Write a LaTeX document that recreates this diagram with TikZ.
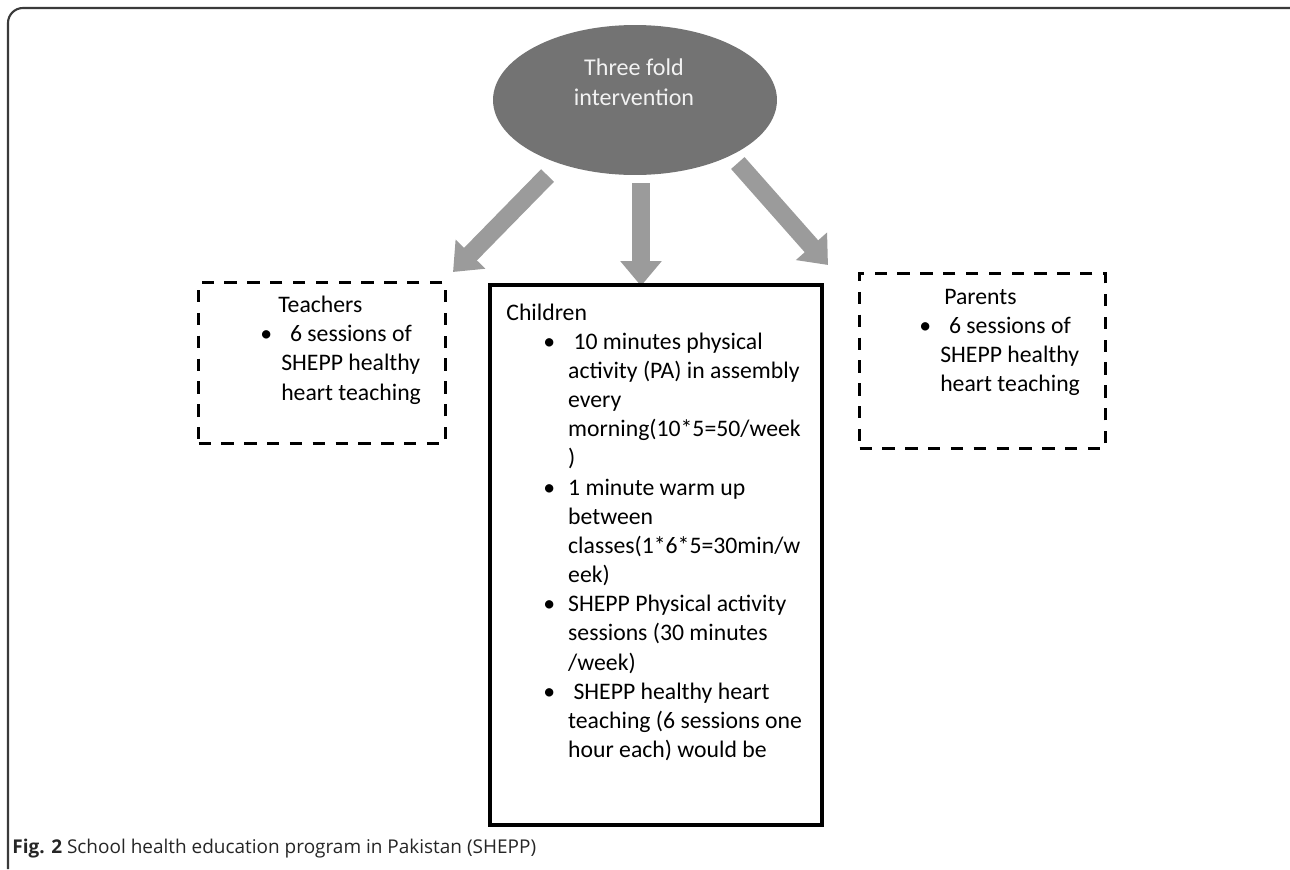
\documentclass[tikz,border=0pt]{standalone}
\usepackage{fontspec}
\setmainfont{Carlito}
\newfontfamily\capfont{Open Sans}
\usetikzlibrary{arrows.meta, shapes.geometric}
\definecolor{hubgray}{HTML}{737373}
\definecolor{arrowgray}{HTML}{9B9B9B}
\definecolor{hubtext}{HTML}{F2F2F2}
\definecolor{framegray}{HTML}{3A3A3A}
\newcommand{\cb}{\hspace*{21pt}\makebox[14.2pt][l]{\textbullet}}
\newcommand{\ci}{\hspace*{35.2pt}}
\newcommand{\tb}{\makebox[11.9pt][l]{\textbullet}}
\newcommand{\ti}{\hspace*{11.9pt}}

\begin{document}
\begin{tikzpicture}[x=0.02cm, y=-0.02cm,
  hub/.style={ellipse, fill=hubgray, inner sep=0, minimum width=5.68cm, minimum height=3cm},
  fatarrow/.style={draw=arrowgray, line width=0.36cm, -{Triangle[length=0.5cm, width=0.8cm]}},
  dashbox/.style={draw, line width=1.7pt, dash pattern=on 7pt off 6pt, inner sep=0},
  solidbox/.style={draw, line width=2.5pt, inner sep=0},
  boxtext/.style={anchor=base west, inner sep=0, align=left, font=\fontsize{13.5}{16.6}\selectfont}]
  \useasboundingbox (0,0) rectangle (1290,869);
  \draw[framegray, line width=1.2pt, rounded corners=0.3cm] (8,869) -- (8,8) -- (1290,8);

  % top node
  \node[hub] (hub) at (635,100) {};
  \node[text=hubtext, align=center, anchor=base, inner sep=0, font=\fontsize{13.7}{17}\selectfont] (hubtxt) at (634,105) {Three fold\\intervention};

  % arrows
  \coordinate (tipL) at (453,272);
  \coordinate (tipM) at (641,286);
  \coordinate (tipR) at (828,265);
  \draw[fatarrow, shorten <=0.33cm] (hub.220) -- (tipL);
  \draw[fatarrow, shorten <=0.16cm] (hub.south -| tipM) -- (tipM);
  \draw[fatarrow, shorten <=0.2cm] (hub.-30) -- (tipR);

  % boxes
  \node[dashbox, minimum width=4.94cm, minimum height=3.22cm] (teach) at (322,363) {};
  \node[solidbox, minimum width=6.64cm, minimum height=10.8cm] (child) at (656,555) {};
  \node[dashbox, minimum width=4.92cm, minimum height=3.5cm] (parent) at (982.5,361) {};

  \node[boxtext] (teachtxt) at (260,400) {\hspace*{10.2pt}Teachers\\
    \tb\hspace{5pt}6 sessions of\\
    \ti SHEPP healthy\\
    \ti heart teaching};
  \node[boxtext] (parenttxt) at (919,391.5) {\hspace*{14.2pt}Parents\\
    \tb\hspace{5pt}6 sessions of\\
    \ti SHEPP healthy\\
    \ti heart teaching};
  \node[boxtext] (childtxt) at (506,757.5) {Children\\
    \cb\ 10 minutes physical\\
    \ci activity (PA) in assembly\\
    \ci every\\
    \ci morning(10*5=50/week\\
    \ci )\\
    \cb 1 minute warm up\\
    \ci between\\
    \ci classes(1*6*5=30min/w\\
    \ci eek)\\
    \cb SHEPP Physical activity\\
    \ci sessions (30 minutes\\
    \ci /week)\\
    \cb\ SHEPP healthy heart\\
    \ci teaching (6 sessions one\\
    \ci hour each) would be};

  \node[anchor=base west, inner sep=0, text=black!85, font=\capfont\fontsize{10.8}{12}\selectfont] (cap) at (12,853) {\textbf{Fig. 2} School health education program in Pakistan (SHEPP)};
\end{tikzpicture}
\end{document}
